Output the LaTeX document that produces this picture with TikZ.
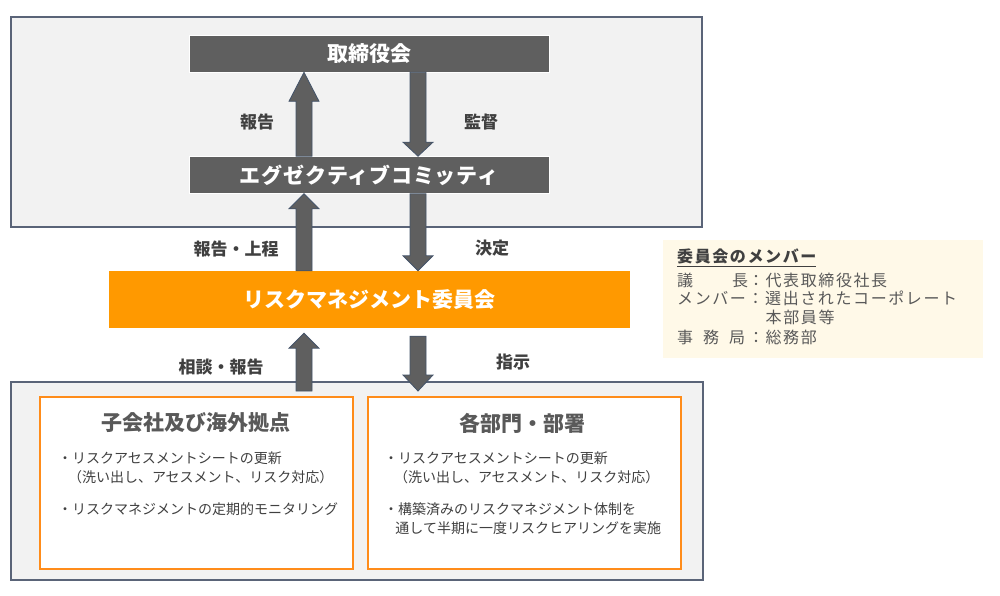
\documentclass[tikz,border=0pt]{standalone}
\usepackage{fontspec}
\setmainfont{Noto Sans CJK JP}
\usepackage{xcolor}
\usepackage{tikz}
\usetikzlibrary{calc}
\definecolor{boxgray}{HTML}{5F5F5F}
\definecolor{arrowedge}{HTML}{44546A}
\definecolor{framefill}{HTML}{F2F2F2}
\definecolor{frameedge}{HTML}{5A6478}
\definecolor{riskorange}{HTML}{FF9900}
\definecolor{subedge}{HTML}{FF8C1A}
\definecolor{memofill}{HTML}{FFF9E8}
\definecolor{labelgray}{HTML}{404040}
\definecolor{textgray}{HTML}{595959}

% fat block arrow: [head length]{base}{tip}
\newcommand{\fatarrow}[3][15pt]{%
  \filldraw[fatarrow] let \p1=(#2), \p2=(#3), \p3=($(#3)!#1!(#2)$) in
    (\x1-8pt,\y1) -- (\x1-8pt,\y3) -- (\x1-15pt,\y3) -- (\x2,\y2)
    -- (\x1+15pt,\y3) -- (\x1+8pt,\y3) -- (\x1+8pt,\y1) -- cycle;}

\begin{document}
\begin{tikzpicture}[x=1pt, y=-1pt,
  frame/.style={fill=framefill, draw=frameedge, line width=1.1pt},
  darkbox/.style={fill=boxgray, draw=white, line width=0.6pt, text=white, inner sep=0pt,
    font=\fontsize{21}{24}\selectfont\bfseries, minimum width=360pt, minimum height=37pt},
  riskbox/.style={fill=riskorange, text=white, inner sep=0pt,
    font=\fontsize{21}{24}\selectfont\bfseries, minimum width=521pt, minimum height=57pt},
  fatarrow/.style={fill=boxgray, draw=arrowedge, line width=0.8pt},
  flowlabel/.style={text=labelgray, font=\fontsize{17}{20}\selectfont\bfseries},
  subbox/.style={fill=white, draw=subedge, line width=2pt, minimum width=313pt, minimum height=172pt},
  subtitle/.style={text=textgray, font=\fontsize{21}{24}\selectfont\bfseries},
  bullets/.style={text=labelgray, anchor=north west, inner sep=0pt, align=left,
    font=\fontsize{14}{18.5}\selectfont},
  memo/.style={text=textgray, anchor=north west, inner sep=0pt, align=left,
    font=\fontsize{16}{18.5}\selectfont\addfontfeature{LetterSpace=10}}]
  \useasboundingbox (0,0) rectangle (1000,595);

  % frames
  \filldraw[frame] (11,17) rectangle (702,227);
  \filldraw[frame] (11,382) rectangle (703,580);

  % boxes
  \node[darkbox] (board) at (369,53.5) {取締役会};
  \node[darkbox] (exec) at (369,175) {\addfontfeature{LetterSpace=4}エグゼクティブコミッティ};
  \node[riskbox] (risk) at (369.5,299.5) {リスクマネジメント委員会};
  \node[subbox] (subl) at (196.5,483) {};
  \node[subbox] (subr) at (524,483) {};

  % arrows
  \coordinate (upx) at (304,0);
  \coordinate (dnx) at (418,0);
  \coordinate (upfoot) at ($(subl.north -| upx)+(0,-5)$);
  \coordinate (uptip) at ($(risk.south -| upx)+(0,5)$);
  \coordinate (dntop) at ($(risk.south -| dnx)+(0,8)$);
  \coordinate (dnfoot) at ($(subr.north -| dnx)+(0,-5)$);
  \fatarrow[29pt]{exec.north -| upx}{board.south -| upx}
  \fatarrow[14pt]{board.south -| dnx}{exec.north -| dnx}
  \fatarrow[15pt]{risk.north -| upx}{exec.south -| upx}
  \fatarrow[15pt]{exec.south -| dnx}{risk.north -| dnx}
  \fatarrow[15pt]{upfoot}{uptip}
  \fatarrow[16pt]{dntop}{dnfoot}

  % arrow labels
  \node[flowlabel] (lrep) at (257,122) {報告};
  \node[flowlabel] (lsup) at (481,122) {監督};
  \node[flowlabel] (lsub) at (236,249) {報告・上程};
  \node[flowlabel] (ldec) at (492,248) {決定};
  \node[flowlabel] (lcon) at (221,367) {相談・報告};
  \node[flowlabel] (lins) at (513,362) {指示};

  % lower boxes
  \node[subtitle] (tl) at (196,423) {子会社及び海外拠点};
  \node[subtitle] (tr) at (522,423) {各部門・部署};
  \node[bullets] (bl) at (58,452) {・リスクアセスメントシートの更新\\
    \hspace*{0.7em}（洗い出し、アセスメント、リスク対応）\\[14pt]
    ・リスクマネジメントの定期的モニタリング};
  \node[bullets] (br) at (384,452) {・リスクアセスメントシートの更新\\
    \hspace*{0.7em}（洗い出し、アセスメント、リスク対応）\\[14pt]
    ・構築済みのリスクマネジメント体制を\\
    \hspace*{0.8em}通して半期に一度リスクヒアリングを実施};

  % members
  \fill[memofill] (663,240) rectangle (983,358);
  \node[memo] (mem) at (677,249) {{\color{labelgray}\bfseries\underline{委員会のメンバー}}\\[5pt]
    \makebox[70.8pt][s]{議\hfill 長}：代表取締役社長\\
    メンバー：選出されたコーポレート\\
    \hspace*{88.5pt}本部員等\\[1.5pt]
    \makebox[70.8pt][s]{事\hfill 務\hfill 局\hspace{3pt}}：総務部};
\end{tikzpicture}
\end{document}
